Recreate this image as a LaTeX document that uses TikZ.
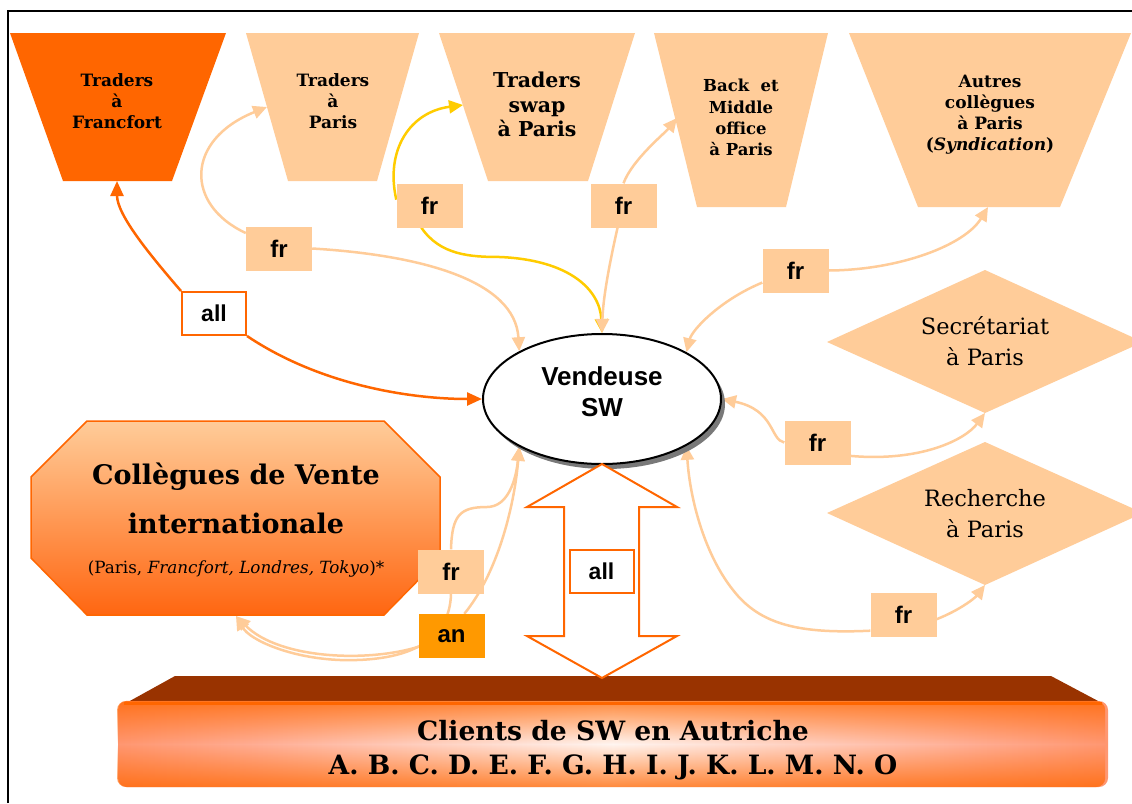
\documentclass[tikz,border=0pt]{standalone}
\usepackage{fontspec}
\setmainfont{DejaVu Serif}
\newfontfamily\geo{DejaVu Serif}
\newfontfamily\arl{Liberation Sans}
\usetikzlibrary{arrows.meta,fadings,shadows,shapes.geometric}
\definecolor{lor}{HTML}{FFCC99}
\definecolor{dor}{HTML}{FF6600}
\definecolor{yel}{HTML}{FFCC00}
\definecolor{anor}{HTML}{FF9900}
\definecolor{brn}{HTML}{993300}
\definecolor{octbot}{HTML}{FF6611}
\pgfdeclarelayer{bgw}
\pgfdeclarelayer{shp}
\pgfdeclarelayer{lns}
\pgfsetlayers{bgw,shp,lns,main}
\pgfdeclarehorizontalshading{clientsh}{100bp}{rgb(0bp)=(1,0.4,0.1); rgb(9bp)=(1,0.42,0.14); rgb(18bp)=(1,0.5,0.3); rgb(32bp)=(1,0.68,0.58); rgb(50bp)=(1,0.96,0.94); rgb(68bp)=(1,0.68,0.58); rgb(82bp)=(1,0.5,0.3); rgb(91bp)=(1,0.42,0.14); rgb(100bp)=(1,0.4,0.1)}
\tikzfading[name=clientsfade, top color=transparent!25, bottom color=transparent!25, middle color=transparent!100]
\tikzset{
  lt/.style={draw=lor, line width=2.5pt, -{Triangle[length=14pt,width=13pt]}},
  yl/.style={draw=yel, line width=2.5pt, -{Triangle[length=14pt,width=13pt]}},
  orl/.style={draw=dor, line width=2.5pt, -{Triangle[length=15pt,width=13pt]}},
  frbox/.style={fill=lor, minimum width=66pt, minimum height=44pt, inner sep=0pt, font={\arl\bfseries\fontsize{24pt}{24pt}\selectfont}},
  anbox/.style={frbox, fill=anor},
  allbox/.style={draw=dor, line width=2pt, fill=white, minimum width=64pt, minimum height=43pt, inner sep=0pt, font={\arl\bfseries\fontsize{23pt}{23pt}\selectfont}},
  trtext/.style={align=center, inner sep=0pt, font={\geo\bfseries\fontsize{17pt}{21pt}\selectfont}},
  swtext/.style={align=center, inner sep=0pt, font={\geo\bfseries\fontsize{20.5pt}{24.5pt}\selectfont}},
  botext/.style={align=center, inner sep=0pt, font={\geo\bfseries\fontsize{16.5pt}{21.3pt}\selectfont}},
  dtext/.style={align=center, inner sep=0pt, font={\geo\fontsize{22.5pt}{30.5pt}\selectfont}},
  vtext/.style={align=center, inner sep=0pt, font={\arl\bfseries\fontsize{26pt}{31pt}\selectfont}},
  octext/.style={anchor=base, inner sep=0pt, font={\geo\bfseries\fontsize{27pt}{30pt}\selectfont}},
  ocsmall/.style={anchor=base, inner sep=0pt, font={\geo\fontsize{16.8pt}{20pt}\selectfont}},
  cltext/.style={anchor=base, inner sep=0pt, font={\geo\bfseries\fontsize{26.6pt}{30pt}\selectfont}},
}
\begin{document}
\begin{tikzpicture}[x=1pt,y=-1pt]
\useasboundingbox (0,0) rectangle (1132,803);
\begin{pgfonlayer}{bgw}
\fill[white] (0,0) rectangle (1132,803);
\end{pgfonlayer}
% frame
\draw[line width=2pt] (8.3,803) -- (8.3,11) -- (1132,11);

% ---------- shapes ----------
\begin{pgfonlayer}{shp}
\fill[dor] (10,33) -- (226,33) -- (172,181) -- (63,181) -- cycle;
\fill[lor] (246,33) -- (419,33) -- (377,181) -- (288,181) -- cycle;
\fill[lor] (439,33) -- (635,33) -- (588,181) -- (488,181) -- cycle;
\fill[lor] (654,33) -- (828,33) -- (786,207) -- (697,207) -- cycle;
\fill[lor] (849,33) -- (1131,33) -- (1060,207) -- (918,207) -- cycle;
\fill[lor] (827,342) -- (985,270) -- (1143,342) -- (985,413) -- cycle;
\fill[lor] (827,513) -- (985,442) -- (1143,513) -- (985,585) -- cycle;
\path[draw=dor, line width=1.5pt, top color=lor, bottom color=octbot]
  (87,421) -- (384,421) -- (440,477) -- (440,558) -- (384,615) -- (87,615) -- (31,558) -- (31,477) -- cycle;
% clients box
\fill[brn] (175,676) -- (1051,676) -- (1100,702) -- (128,702) -- cycle;
\path[rounded corners=9pt, shading=clientsh] (118,701) rectangle (1108,787);
\path[rounded corners=9pt, fill=dor, path fading=clientsfade] (118,701) rectangle (1108,787);
\draw[dor, line width=3pt] (124,703) -- (1102,703);
\end{pgfonlayer}

% connector end points on the shapes
\coordinate (tfB) at (117,181);
\coordinate (tpL) at (267,107);
\coordinate (tsL) at (463,105);
\coordinate (boL) at (677,118);
\coordinate (acB) at (988,207);
\coordinate (seB) at (985,413);
\coordinate (reB) at (985,585);
\coordinate (ocB) at (236,616);

% ---------- texts in shapes ----------
\node[trtext] (tfT) at (117,101.6) {Traders\\à\\Francfort};
\node[trtext] (tpT) at (333,101.6) {Traders\\à\\Paris};
\node[swtext] (tsT) at (537,104.5) {Traders\\swap\\à Paris};
\node[botext] (boT) at (741,117.7) {Back\ \ et\\Middle\\office\\à Paris};
\node[trtext] (acT) at (990,115) {Autres\\collègues\\à Paris\\(\textit{Syndication})};
\node[dtext] (seT) at (985,341) {Secrétariat\\à Paris};
\node[dtext] (reT) at (985,513.5) {Recherche\\à Paris};
\node[octext] (oc1) at (236,484) {Collègues de Vente};
\node[octext] (oc2) at (236,533) {internationale};
\node[ocsmall] (oc3) at (236,573) {(Paris, \textit{Francfort, Londres, Tokyo})*};
\node[cltext] (cl1) at (613,740) {Clients de SW en Autriche};
\node[cltext] (cl2) at (613,774) {A. B. C. D. E. F. G. H. I. J. K. L. M. N. O};

% ---------- central ellipse ----------
\node[draw, line width=2pt, fill=white, ellipse, minimum width=238pt, minimum height=130pt, inner sep=0pt,
      drop shadow={shadow xshift=4pt, shadow yshift=-5pt, fill=gray!95!black, opacity=1}] (vs) at (602,399) {};
\node[vtext] (vsT) at (602,392) {Vendeuse\\SW};

% ---------- double arrow ----------
\draw[dor, line width=2pt, fill=white]
  (602,464) -- (677,507) -- (639,507) -- (639,636) -- (677,636) -- (602,678)
  -- (527,636) -- (564,636) -- (564,507) -- (527,507) -- cycle;

% ---------- label boxes ----------
\node[allbox] (all1) at (214,313.5) {all};
\node[allbox] (all2) at (601.5,571.5) {all};
\node[frbox] (fr1) at (279,248.5) {fr};
\node[frbox] (fr2) at (429.5,205.5) {fr};
\node[frbox] (fr3) at (623.5,205.5) {fr};
\node[frbox] (fr4) at (795.5,270.5) {fr};
\node[frbox] (fr5) at (817.5,442.5) {fr};
\node[frbox] (fr6) at (903.5,614.5) {fr};
\node[frbox] (fr7) at (451,571.5) {fr};
\node[anbox] (an) at (451.5,636) {an};

% ---------- connectors ----------
\begin{pgfonlayer}{lns}
\draw[orl] (all1.north west) .. controls (150,255) and (117,215) .. (tfB);
\draw[orl] (all1.south east) .. controls (320,385) and (410,399) .. (vs.west);
\draw[lt] (fr1.155) .. controls (185,205) and (185,140) .. (tpL);
\draw[lt] (fr1.east) .. controls (420,255) and (515,280) .. (vs.150);
\draw[yl] (fr2.170) .. controls (385,150) and (410,112) .. (tsL);
\draw[yl] (fr2.250) .. controls (440,255) and (470,257) .. (500,257) .. controls (570,260) and (600,290) .. (vs.north);
\draw[lt] (fr3.north) .. controls (632,160) and (665,133) .. (boL);
\draw[lt] (fr3.255) .. controls (608,270) and (603,300) .. (vs.north);
\draw[lt] (fr4.east) .. controls (900,270) and (965,245) .. (acB);
\draw[lt] (fr4.200) .. controls (720,300) and (692,330) .. (vs.29);
\draw[lt] (fr5.west) .. controls (770,440) and (775,410) .. (vs.east);
\draw[lt] (fr5.-22) .. controls (920,462) and (965,440) .. (seB);
\draw[lt] (fr6.206) .. controls (800,634) and (760,625) .. (733,590) .. controls (705,555) and (690,500) .. (vs.331);
\draw[lt] (fr6.-8) .. controls (960,610) and (975,598) .. (reB);
\draw[lt] (fr7.north) .. controls (452,515) and (460,507) .. (487,507) .. controls (508,507) and (516,480) .. (vs.210);
\draw[lt] (fr7.south) .. controls (450,640) and (410,662) .. (340,660) .. controls (290,658) and (250,640) .. (ocB);
\draw[lt] (an.60) .. controls (500,570) and (515,500) .. (vs.210);
\draw[lt] (an.198) .. controls (370,662) and (280,660) .. (ocB);
\end{pgfonlayer}
\end{tikzpicture}
\end{document}
